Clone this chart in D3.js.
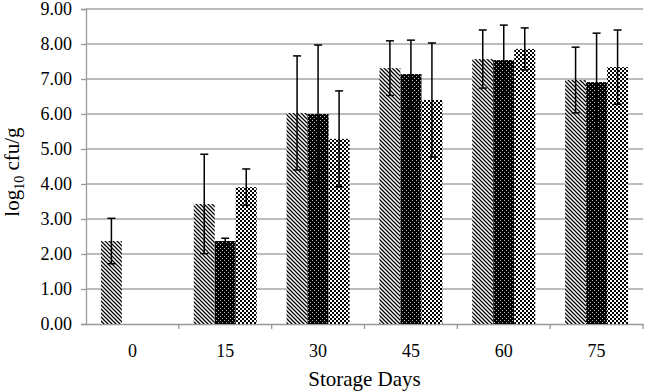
<!DOCTYPE html>
<html>
<head>
<meta charset="utf-8">
<script src="https://cdn.jsdelivr.net/npm/d3@7"></script>
<style>
  body { margin: 0; background: #fff; }
  text { font-family: "Liberation Serif", "Times New Roman", serif; fill: #000; }
</style>
</head>
<body>
<div id="chart"></div>
<script>
// data
const days = ["0", "15", "30", "45", "60", "75"];
const seriesNames = ["s1", "s2", "s3"];
const s1 = [2.37, 3.43, 6.03, 7.31, 7.57, 6.97];
const s2 = [0.00, 2.37, 6.00, 7.14, 7.54, 6.91];
const s3 = [0.00, 3.91, 5.29, 6.40, 7.86, 7.34];
const e1 = [0.65, 1.42, 1.63, 0.78, 0.83, 0.94];
const e2 = [0.00, 0.08, 1.97, 0.97, 1.00, 1.40];
const e3 = [0.00, 0.52, 1.37, 1.63, 0.60, 1.06];
const yTicks = [0, 1, 2, 3, 4, 5, 6, 7, 8, 9];

const width = 646, height = 391;
const mLeft = 86, mRight = 643, mTop = 9, mBottom = 324;

const svg = d3.select("#chart")
    .append("svg")
    .attr("width", width)
    .attr("height", height);

// hatch patterns
const defs = svg.append("defs");
const p1 = defs.append("pattern").attr("id", "pat1")
    .attr("patternUnits", "userSpaceOnUse").attr("width", 4).attr("height", 4);
p1.append("rect").attr("width", 4).attr("height", 4).attr("fill", "#fff");
p1.append("path")
    .attr("d", "M-1,-1 L5,5 M-1,3 L1,5 M3,-1 L5,1")
    .attr("stroke", "#000").attr("stroke-width", 1.25);

const p2 = defs.append("pattern").attr("id", "pat2")
    .attr("patternUnits", "userSpaceOnUse").attr("width", 4).attr("height", 4);
p2.append("rect").attr("width", 4).attr("height", 4).attr("fill", "#000");
p2.append("rect").attr("x", 0).attr("y", 0).attr("width", 1).attr("height", 1).attr("fill", "#bbb");
p2.append("rect").attr("x", 2).attr("y", 2).attr("width", 1).attr("height", 1).attr("fill", "#bbb");

const p3 = defs.append("pattern").attr("id", "pat3")
    .attr("patternUnits", "userSpaceOnUse").attr("width", 4).attr("height", 4);
p3.append("rect").attr("width", 4).attr("height", 4).attr("fill", "#fff");
p3.append("rect").attr("x", 0).attr("y", 0).attr("width", 2).attr("height", 2).attr("fill", "#000");
p3.append("rect").attr("x", 2).attr("y", 2).attr("width", 2).attr("height", 2).attr("fill", "#000");

const fills = d3.scaleOrdinal().domain(seriesNames).range(["url(#pat1)", "url(#pat2)", "url(#pat3)"]);

// scales
const x = d3.scaleBand().domain(days).range([mLeft, mRight]);
const xSub = d3.scaleBand().domain(seriesNames).range([0, x.bandwidth()]).paddingOuter(0.71);
const y = d3.scaleLinear().domain([0, 9]).range([mBottom, mTop]);

// gridlines
svg.append("g")
    .selectAll("line")
    .data(yTicks.filter(d => d > 0))
    .enter().append("line")
    .attr("x1", mLeft).attr("x2", mRight)
    .attr("y1", d => y(d)).attr("y2", d => y(d))
    .attr("stroke", "#a6a6a6").attr("stroke-width", 1.3);

// Y axis
const yAxis = svg.append("g")
    .attr("transform", `translate(${mLeft},0)`)
    .call(d3.axisLeft(y).tickValues(yTicks).tickFormat(d3.format(".2f")).tickSize(5).tickPadding(9));
yAxis.selectAll("text").style("font-size", "18px").style("font-family", "Liberation Serif");
yAxis.selectAll("line, path").attr("stroke", "#999").attr("stroke-width", 1.3);

// X axis (labels)
const xAxis = svg.append("g")
    .attr("transform", `translate(0,${mBottom})`)
    .call(d3.axisBottom(x).tickSize(0).tickPadding(20));
xAxis.select(".domain").attr("stroke", "#999").attr("stroke-width", 1.3);
xAxis.selectAll("text").style("font-size", "18px").style("font-family", "Liberation Serif");

// X ticks between categories
svg.append("g")
    .selectAll("line")
    .data(days)
    .enter().append("line")
    .attr("x1", d => x(d) + x.step()).attr("x2", d => x(d) + x.step())
    .attr("y1", mBottom).attr("y2", mBottom + 5)
    .attr("stroke", "#999").attr("stroke-width", 1.3);

// rows for bars
const rows = [];
days.forEach((d, i) => {
    rows.push({ day: d, s: "s1", v: s1[i], e: e1[i] });
    rows.push({ day: d, s: "s2", v: s2[i], e: e2[i] });
    rows.push({ day: d, s: "s3", v: s3[i], e: e3[i] });
});

svg.append("g")
    .selectAll("rect")
    .data(rows)
    .enter().append("rect")
    .attr("x", d => x(d.day) + xSub(d.s))
    .attr("y", d => y(d.v))
    .attr("width", xSub.bandwidth())
    .attr("height", d => y(0) - y(d.v))
    .attr("fill", d => fills(d.s));

// error bars
const eb = svg.append("g")
    .selectAll("g")
    .data(rows.filter(d => d.e > 0))
    .enter().append("g")
    .attr("stroke", "#000").attr("stroke-width", 1.5);
const cx = d => x(d.day) + xSub(d.s) + xSub.bandwidth() / 2;
eb.append("line")
    .attr("x1", cx).attr("x2", cx)
    .attr("y1", d => y(d.v - d.e)).attr("y2", d => y(d.v + d.e));
eb.append("line")
    .attr("x1", d => cx(d) - 4).attr("x2", d => cx(d) + 4)
    .attr("y1", d => y(d.v + d.e)).attr("y2", d => y(d.v + d.e));
eb.append("line")
    .attr("x1", d => cx(d) - 4).attr("x2", d => cx(d) + 4)
    .attr("y1", d => y(d.v - d.e)).attr("y2", d => y(d.v - d.e));

// axis titles
svg.append("text")
    .attr("x", (mLeft + mRight) / 2)
    .attr("y", 386)
    .attr("text-anchor", "middle")
    .style("font-size", "21px")
    .text("Storage Days");

const yt = svg.append("text")
    .attr("transform", "translate(19,172) rotate(-90)")
    .attr("text-anchor", "middle")
    .style("font-size", "21px");
yt.append("tspan").text("log");
yt.append("tspan").attr("dy", 5).style("font-size", "14px").text("10");
yt.append("tspan").attr("dy", -5).text(" cfu/g");
</script>
</body>
</html>
